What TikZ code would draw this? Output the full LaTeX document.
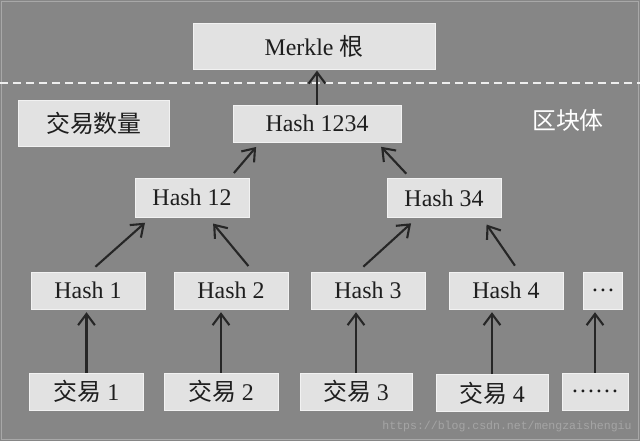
\documentclass[tikz,border=0pt]{standalone}
\usepackage{fontspec}
\setmainfont{Liberation Serif}
\setmonofont{Liberation Mono}
\newfontfamily\cjk{Noto Sans CJK SC}
\usetikzlibrary{arrows.meta}

\definecolor{bggray}{RGB}{134,134,134}
\definecolor{boxfill}{RGB}{226,226,226}
\definecolor{boxline}{RGB}{242,242,242}
\definecolor{inkgray}{RGB}{30,30,30}
\definecolor{dashwhite}{RGB}{238,238,238}
\definecolor{framegray}{RGB}{168,168,168}
\definecolor{markgray}{RGB}{165,165,165}

\begin{document}
\begin{tikzpicture}[
    x=0.025cm, y=-0.025cm,
    font=\fontsize{17}{20}\selectfont,
    block/.style={rectangle, fill=boxfill, draw=boxline, line width=0.6pt, text=inkgray, minimum height=0.925cm, inner sep=0pt},
    hashbox/.style={block, minimum width=2.85cm},
    txbox/.style={block, minimum width=2.85cm},
    link/.style={-{Straight Barb[length=2.8mm,width=4.2mm]}, line width=1.5pt, draw=black!85},
    tiltlink/.style={link, shorten <=0.18cm, shorten >=0.2cm},
    splitline/.style={draw=dashwhite, line width=2.1pt, dash pattern=on 0.2cm off 0.125cm}
]
    % --- CANVAS ---
    \fill[bggray] (0,0) rectangle (640,441);
    \draw[framegray, line width=0.8pt] (1.5,1.5) rectangle (638.5,439.5);
    \useasboundingbox (0,0) rectangle (640,441);

    % --- BLOCK HEADER ---
    \node[block, minimum width=6.05cm, minimum height=1.15cm] (Merkle) at (314,46) {Merkle {\cjk 根}};
    \coordinate (CutLeft) at (0,83);
    \coordinate (CutRight) at (640,83);
    \draw[splitline] (CutLeft) -- (CutRight);

    % --- BLOCK BODY ---
    \node[block, minimum width=3.775cm, minimum height=1.15cm] (TxCount) at (94,123) {\cjk 交易数量};
    \node[block, minimum width=4.2cm] (Hash1234) at (317,123.5) {Hash 1234};
    \node[text=white, font=\cjk\fontsize{17}{20}\selectfont] (BodyLabel) at (568,120) {区块体};

    \node[hashbox, minimum height=0.975cm] (Hash12) at (192,197.5) {Hash 12};
    \node[hashbox, minimum height=0.975cm] (Hash34) at (444,198) {Hash 34};

    \node[hashbox] (Hash1) at (88,290.5) {Hash 1};
    \node[hashbox] (Hash2) at (231,290.5) {Hash 2};
    \node[hashbox] (Hash3) at (368,290.5) {Hash 3};
    \node[hashbox] (Hash4) at (506,290.5) {Hash 4};
    \node[block, minimum width=0.975cm] (HashMore) at (603,290.5) {…};

    % --- TRANSACTIONS ---
    \node[txbox] (Tx1) at (86.5,391.5) {{\cjk 交易} 1};
    \node[txbox] (Tx2) at (221,391.5) {{\cjk 交易} 2};
    \node[txbox, minimum width=2.8cm] (Tx3) at (356,391.5) {{\cjk 交易} 3};
    \node[txbox, minimum width=2.8cm] (Tx4) at (492,393) {{\cjk 交易} 4};
    \node[block, minimum width=1.65cm] (TxMore) at (595,391.5) {……};

    \node[font=\ttfamily\fontsize{8.2}{10}\selectfont, text=markgray] (Watermark) at (507,427) {https://blog.csdn.net/mengzaishengiu};

    % ================= HASH LINKS =================
    \draw[link, shorten >=0.03cm] (Hash1234.north) -- (Hash1234.north |- Merkle.south);

    \draw[link, shorten <=0.15cm, shorten >=0.15cm] ([xshift=0.95cm]Hash12.north) -- ([xshift=-1.425cm]Hash1234.south);
    \draw[link, shorten <=0.15cm, shorten >=0.15cm] ([xshift=-0.84cm]Hash34.north) -- ([xshift=1.5cm]Hash1234.south);

    \draw[tiltlink] ([xshift=0.05cm]Hash1.north) -- ([xshift=-1.025cm]Hash12.south);
    \draw[tiltlink] ([xshift=0.55cm]Hash2.north) -- ([xshift=0.4cm]Hash12.south);
    \draw[tiltlink] ([xshift=-0.25cm]Hash3.north) -- ([xshift=-0.675cm]Hash34.south);
    \draw[tiltlink] ([xshift=0.325cm]Hash4.north) -- ([xshift=0.95cm]Hash34.south);

    % transactions to leaf hashes
    \foreach \t/\h in {Tx1/Hash1, Tx2/Hash2, Tx3/Hash3, Tx4/Hash4, TxMore/HashMore}
        \draw[link, shorten >=0.07cm] (\t.north) -- (\t.north |- \h.south);

\end{tikzpicture}
\end{document}
